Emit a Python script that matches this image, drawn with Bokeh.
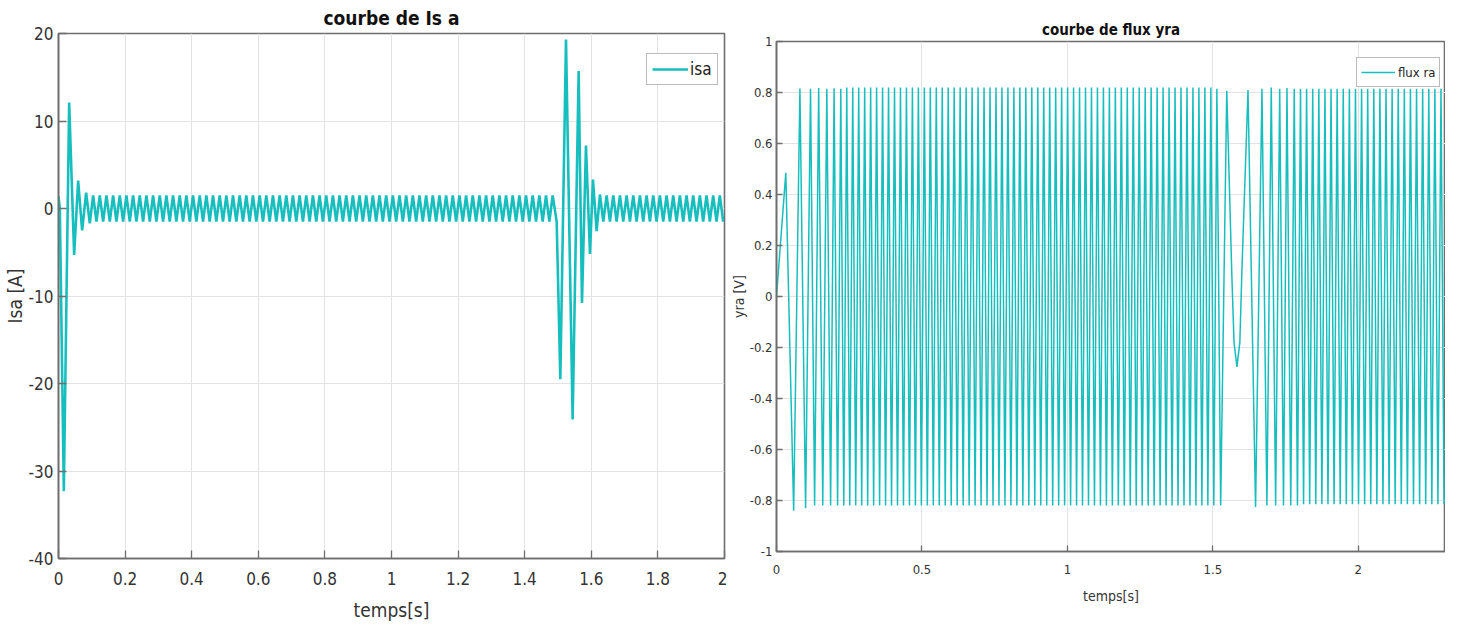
import numpy as np
from bokeh.plotting import figure
from bokeh.layouts import row
from bokeh.models import Range1d, Legend, LegendItem, FixedTicker
from bokeh.embed import file_html
from bokeh.resources import INLINE

# ---------------- Left chart: courant statorique isa [A] ----------------
# extrema (time in s, value in A)
isa_start_t = [0.0, 0.004, 0.016, 0.032, 0.047, 0.059, 0.071, 0.083, 0.094]
isa_start_v = [1.4, 0.0, -32.3, 12.1, -5.3, 3.2, -2.5, 1.8, -1.7]
isa_fault_t = [1.496, 1.507, 1.524, 1.544, 1.562, 1.572, 1.584, 1.596, 1.605, 1.616, 1.626]
isa_fault_v = [-1.5, -19.5, 19.3, -24.1, 15.7, -10.8, 7.2, -5.2, 3.3, -2.6, 1.6]
# steady-state oscillation: (start, end, amplitude, half-period, first sign)
isa_steady = [(0.104, 1.486, 1.5, 0.010, +1), (1.636, 2.0, 1.5, 0.010, -1)]
isa_xticks = [0, 0.2, 0.4, 0.6, 0.8, 1, 1.2, 1.4, 1.6, 1.8, 2]
isa_xlabels = ["0", "0.2", "0.4", "0.6", "0.8", "1", "1.2", "1.4", "1.6", "1.8", "2"]
isa_yticks = [-40, -30, -20, -10, 0, 10, 20]
isa_ylabels = ["-40", "-30", "-20", "-10", "0", "10", "20"]

# ---------------- Right chart: flux rotorique yra [V] ----------------
yra_start_t = [0.0, 0.032, 0.059, 0.0805, 0.100, 0.117, 0.131, 0.145, 0.159, 0.173, 0.186, 0.198, 0.210, 0.221]
yra_start_v = [0.0, 0.485, -0.84, 0.816, -0.83, 0.815, -0.82, 0.818, -0.82, 0.815, -0.82, 0.817, -0.82, 0.815]
yra_gap_t = [1.514, 1.527, 1.548, 1.565, 1.573, 1.583, 1.593, 1.600, 1.621, 1.647, 1.669, 1.686,
             1.701, 1.716, 1.730, 1.743, 1.755, 1.768, 1.780, 1.791]
yra_gap_v = [0.815, -0.82, 0.807, 0.1, -0.18, -0.276, -0.18, 0.1, 0.81, -0.825, 0.815, -0.82,
             0.82, -0.82, 0.815, -0.82, 0.818, -0.82, 0.815, -0.82]
yra_steady = [(0.2313, 1.5045, 0.82, 0.01026, -1), (1.8015, 2.3, 0.815, 0.0105, +1)]
yra_xticks = [0, 0.5, 1, 1.5, 2]
yra_xlabels = ["0", "0.5", "1", "1.5", "2"]
yra_yticks = [-1, -0.8, -0.6, -0.4, -0.2, 0, 0.2, 0.4, 0.6, 0.8, 1]
yra_ylabels = ["-1", "-0.8", "-0.6", "-0.4", "-0.2", "0", "0.2", "0.4", "0.6", "0.8", "1"]

LINE = "#17BEBE"
AXC = "#6e6e6e"
GRID = "#e3e3e3"
FONT = "DejaVu Sans Condensed"


def steady_points(seg):
    t0, t1, amp, half, sign = seg
    n = int(round((t1 - t0) / half)) + 1
    ts = [t0 + k * half for k in range(n)]
    vs = [amp * sign * (1 if k % 2 == 0 else -1) for k in range(n)]
    return ts, vs


def assemble(parts):
    T, V = [], []
    for t, v in parts:
        T += list(t)
        V += list(v)
    return T, V


isa_t, isa_v = assemble([(isa_start_t, isa_start_v), steady_points(isa_steady[0]),
                         (isa_fault_t, isa_fault_v), steady_points(isa_steady[1])])
yra_t, yra_v = assemble([(yra_start_t, yra_start_v), steady_points(yra_steady[0]),
                         (yra_gap_t, yra_gap_v), steady_points(yra_steady[1])])


def style(p, xticks, xlabels, yticks, ylabels, tick_size, label_size, title_size, tick_len,
          xstand, xlstand, ystand, ylstand):
    p.title.text_font = FONT
    p.title.text_font_style = "bold"
    p.title.text_font_size = title_size
    p.title.align = "center"
    p.title.text_color = "#111111"
    p.outline_line_color = AXC
    p.outline_line_width = 1.6
    p.outline_line_alpha = 1
    bottom = p.below[0]
    left = p.left[0]
    for ax in (bottom, left):
        ax.axis_line_color = AXC
        ax.axis_line_width = 1.6
        ax.major_tick_line_color = AXC
        ax.major_tick_line_width = 1.3
        ax.major_tick_in = tick_len
        ax.major_tick_out = 0
        ax.minor_tick_line_color = None
        ax.major_label_text_font = FONT
        ax.major_label_text_font_size = tick_size
        ax.major_label_text_color = "#333333"
        ax.axis_label_text_font = FONT
        ax.axis_label_text_font_size = label_size
        ax.axis_label_text_font_style = "normal"
        ax.axis_label_text_color = "#333333"
    bottom.ticker = FixedTicker(ticks=xticks)
    left.ticker = FixedTicker(ticks=yticks)
    bottom.major_label_overrides = dict(zip(xticks, xlabels))
    left.major_label_overrides = dict(zip(yticks, ylabels))
    bottom.major_label_standoff = xstand
    bottom.axis_label_standoff = xlstand
    left.major_label_standoff = ystand
    left.axis_label_standoff = ylstand
    p.xgrid.ticker = FixedTicker(ticks=xticks)
    p.ygrid.ticker = FixedTicker(ticks=yticks)
    p.grid.grid_line_color = GRID
    p.grid.grid_line_width = 1


# ----- left figure -----
p1 = figure(frame_width=666, frame_height=525, output_backend="svg", toolbar_location=None,
            x_range=Range1d(0, 2), y_range=Range1d(-40, 20), title="courbe de Is a",
            min_border_left=45, min_border_right=3, min_border_top=32, min_border_bottom=60,
            x_axis_label="temps[s]", y_axis_label="Isa [A]")
r1 = p1.line(isa_t, isa_v, line_color=LINE, line_width=2.6)
style(p1, isa_xticks, isa_xlabels, isa_yticks, isa_ylabels, "17px", "19px", "19px", 8,
      13, 11, 5, 0)
p1.title.standoff = 9
leg1 = Legend(items=[LegendItem(label="isa", renderers=[r1])], location=(588, 473),
              border_line_color="#777777", border_line_width=1.5, label_text_font=FONT,
              label_text_font_size="17px", label_text_color="#222222", glyph_width=36,
              label_standoff=2, padding=5, margin=0, background_fill_alpha=1)
p1.add_layout(leg1, "center")

# ----- right figure (shifted down by a layout margin) -----
p2 = figure(frame_width=669, frame_height=510, output_backend="svg", toolbar_location=None,
            x_range=Range1d(0, 2.3), y_range=Range1d(-1, 1), title="courbe de flux yra",
            min_border_left=44, min_border_right=0, min_border_top=32, min_border_bottom=50,
            x_axis_label="temps[s]", y_axis_label="yra [V]")
r2 = p2.line(yra_t, yra_v, line_color=LINE, line_width=1.5)
style(p2, yra_xticks, yra_xlabels, yra_yticks, yra_ylabels, "13px", "14px", "15px", 6,
      13, 11, 4, 0)
p2.title.standoff = 6
p2.margin = (8, 0, 0, 0)
leg2 = Legend(items=[LegendItem(label="flux ra", renderers=[r2])], location=(580, 464),
              border_line_color="#777777", border_line_width=1.5, label_text_font=FONT,
              label_text_font_size="13px", label_text_color="#222222", glyph_width=34,
              label_standoff=3, padding=4, margin=0, background_fill_alpha=1)
p2.add_layout(leg2, "center")

layout = row(p1, p2, spacing=0)
open("out.html", "w").write(file_html(layout, INLINE))
